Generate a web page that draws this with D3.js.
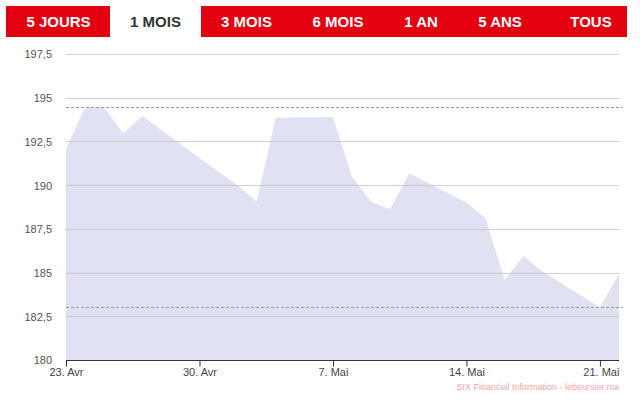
<!DOCTYPE html>
<html><head><meta charset="utf-8">
<script src="https://cdn.jsdelivr.net/npm/d3@7/dist/d3.min.js"></script>
<style>
html,body{margin:0;padding:0;background:#fff;}
svg{display:block;font-family:"Liberation Sans",Arial,sans-serif;}
</style></head>
<body>
<svg id="chart" width="642" height="400"></svg>
<script>
const tabs = ["5 JOURS","1 MOIS","3 MOIS","6 MOIS","1 AN","5 ANS","TOUS"];
const activeTab = "1 MOIS";
const dates = ["2018-04-23","2018-04-24","2018-04-25","2018-04-26","2018-04-27","2018-04-30",
  "2018-05-02","2018-05-03","2018-05-04","2018-05-07","2018-05-08","2018-05-09","2018-05-10","2018-05-11",
  "2018-05-14","2018-05-15","2018-05-16","2018-05-17","2018-05-18","2018-05-21","2018-05-22"];
const prices = [192.1,194.45,194.45,192.96,193.95,191.55,
  190.0,189.05,193.85,193.9,190.48,189.05,188.62,190.68,
  189.0,188.1,184.57,185.95,185.05,183.02,184.92];
const yTicks = [180,182.5,185,187.5,190,192.5,195,197.5];
const xTickDates = ["2018-04-23","2018-04-30","2018-05-07","2018-05-14","2018-05-21"];
const xTickLabels = ["23. Avr","30. Avr","7. Mai","14. Mai","21. Mai"];
const credit = "SIX Financial Information - leboursier.ma";

const parse = d3.utcParse("%Y-%m-%d");
const data = dates.map((d,i)=>({date:parse(d), value:prices[i]}));
const svg = d3.select("#chart");

// Tabs
const tabBoxes = [[6,110],[110,201],[201,627]];
svg.append("rect").attr("x",6).attr("y",6).attr("width",104).attr("height",31).attr("fill","#e3000f");
svg.append("rect").attr("x",201).attr("y",6).attr("width",426).attr("height",31).attr("fill","#e3000f");
const tabCenters = [58.5,155.5,246.5,338,421,500,591];
svg.selectAll("text.tab").data(tabs).join("text").attr("class","tab")
  .attr("x",(d,i)=>tabCenters[i]).attr("y",27).attr("text-anchor","middle")
  .attr("font-size",15).attr("font-weight","bold")
  .attr("fill",d=>d===activeTab?"#333333":"#ffffff").text(d=>d);

// Scales
const x = d3.scaleUtc().domain([parse("2018-04-23"),parse("2018-05-22")]).range([66,619]);
const y = d3.scaleLinear().domain([180,197.5]).range([360,54]);

// Area
const area = d3.area().x(d=>x(d.date)).y0(y(180)).y1(d=>y(d.value));
svg.append("path").datum(data).attr("d",area).attr("fill","#e0e2f4");

// Grid lines
svg.append("g").selectAll("line").data(yTicks.filter(t=>t>180)).join("line")
  .attr("x1",66).attr("x2",619).attr("y1",d=>Math.round(y(d))+0.5).attr("y2",d=>Math.round(y(d))+0.5)
  .attr("stroke","#c0c0c0").attr("stroke-opacity",0.75).attr("stroke-width",1);

// Max/min dashed lines
const vmax = d3.max(prices), vmin = d3.min(prices);
svg.append("g").selectAll("line").data([vmax,vmin]).join("line")
  .attr("x1",66).attr("x2",623).attr("y1",d=>Math.round(y(d))+0.5).attr("y2",d=>Math.round(y(d))+0.5)
  .attr("stroke","#9a9a9a").attr("stroke-width",1).attr("stroke-dasharray","3,2");

// Y axis labels
const fmt = v => String(v).replace(".",",");
const yAxis = d3.axisLeft(y).tickValues(yTicks).tickFormat(fmt).tickSize(0).tickPadding(0);
const gy = svg.append("g").attr("transform","translate(52,0)").call(yAxis);
gy.select(".domain").remove();
gy.selectAll("text").attr("font-size",11).attr("fill","#555").attr("font-family","Liberation Sans, Arial, sans-serif").attr("dy","0.35em");

// X axis
const tickMap = new Map(xTickDates.map((d,i)=>[+parse(d),xTickLabels[i]]));
const xAxis = d3.axisBottom(x).tickValues(xTickDates.map(parse)).tickFormat(d=>tickMap.get(+d)).tickSize(6).tickSizeOuter(0).tickPadding(2);
const gx = svg.append("g").attr("transform","translate(0,360.5)").call(xAxis);
gx.select(".domain").attr("stroke","#333").attr("d","M66,0H619");
gx.selectAll(".tick line").attr("stroke","#333");
gx.selectAll("text").attr("font-size",11).attr("fill","#444").attr("font-family","Liberation Sans, Arial, sans-serif");
gx.selectAll(".tick text").filter((d,i)=>i===xTickDates.length-1).attr("text-anchor","end").attr("dx","19");

// Credit
svg.append("text").attr("x",619).attr("y",390).attr("text-anchor","end")
  .attr("font-size",9).attr("fill","#f4a6a6").text(credit);
</script>
</body></html>
